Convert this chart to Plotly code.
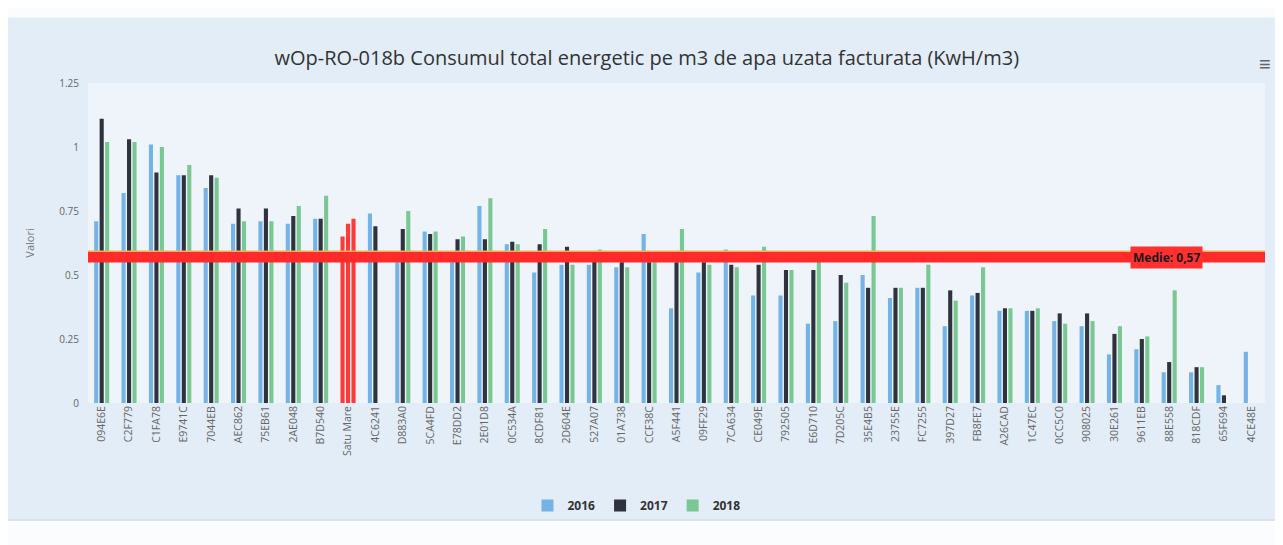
import plotly.graph_objects as go

# categories (operators) and values
categories = ["094E6E", "C2F779", "C1FA78", "E9741C", "7044EB", "AEC862", "75EB61", "2AE048",
              "B7D540", "Satu Mare", "4C6241", "D883A0", "5CA4FD", "E78DD2", "2E01D8", "0C534A",
              "8CDF81", "2D604E", "527A07", "01A738", "CCF38C", "A5F441", "09FF29", "7CA634",
              "CE049E", "792505", "E6D710", "7D205C", "35E4B5", "23755E", "FC7255", "397D27",
              "FB8FE7", "A26CAD", "1C47EC", "0CC5C0", "908025", "30E261", "9611EB", "88E558",
              "818CDF", "65F694", "4CE48E"]

v2016 = [0.71, 0.82, 1.01, 0.89, 0.84, 0.70, 0.71, 0.70, 0.72, 0.65, 0.74, 0.55, 0.67, 0.55,
         0.77, 0.62, 0.51, 0.54, 0.54, 0.53, 0.66, 0.37, 0.51, 0.60, 0.42, 0.42, 0.31, 0.32,
         0.50, 0.41, 0.45, 0.30, 0.42, 0.36, 0.36, 0.32, 0.30, 0.19, 0.21, 0.12, 0.12, 0.07, 0.20]
v2017 = [1.11, 1.03, 0.90, 0.89, 0.89, 0.76, 0.76, 0.73, 0.72, 0.70, 0.69, 0.68, 0.66, 0.64,
         0.64, 0.63, 0.62, 0.61, 0.59, 0.55, 0.55, 0.55, 0.55, 0.54, 0.54, 0.52, 0.52, 0.50,
         0.45, 0.45, 0.45, 0.44, 0.43, 0.37, 0.36, 0.35, 0.35, 0.27, 0.25, 0.16, 0.14, 0.03, None]
v2018 = [1.02, 1.02, 1.00, 0.93, 0.88, 0.71, 0.71, 0.77, 0.81, 0.72, None, 0.75, 0.67, 0.65,
         0.80, 0.62, 0.68, 0.54, 0.60, 0.53, 0.55, 0.68, 0.54, 0.53, 0.61, 0.52, 0.58, 0.47,
         0.73, 0.45, 0.54, 0.40, 0.53, 0.37, 0.37, 0.31, 0.32, 0.30, 0.26, 0.44, 0.14, None, None]

years = ["2016", "2017", "2018"]
colors = ["#74b3e8", "#2f323f", "#79c893"]
highlight = "Satu Mare"
mean_value = 0.57
ytick_vals = [0, 0.25, 0.5, 0.75, 1, 1.25]
ytick_text = ["0", "0.25", "0.5", "0.75", "1", "1.25"]

fig = go.Figure()
for name, vals, col in zip(years, [v2016, v2017, v2018], colors):
    bar_colors = ["#ff3838" if c == highlight else col for c in categories]
    fig.add_trace(go.Bar(x=categories, y=vals, name=f"<b>{name}</b>",
                         marker=dict(color=bar_colors, line_width=0)))

# mean plot line
fig.add_shape(type="line", xref="paper", yref="y", x0=0, x1=1, y0=mean_value, y1=mean_value,
              line=dict(color="#ff2b2b", width=11))
fig.add_shape(type="line", xref="paper", yref="y", x0=0, x1=1,
              y0=mean_value + 0.023, y1=mean_value + 0.023,
              line=dict(color="#f7b04c", width=1.5))
fig.add_annotation(xref="paper", yref="y", x=0.916, y=mean_value, xanchor="center",
                   yanchor="middle", text="<b>Medie: 0,57</b>", showarrow=False,
                   bgcolor="#ff3030", font=dict(size=12, color="#1a1a1a"),
                   borderpad=2)

# white page strips around the chart container
fig.add_shape(type="rect", xref="paper", yref="paper", x0=-0.08, x1=1.02, y0=1.205, y1=1.27,
              fillcolor="#fbfcfd", line_width=0, layer="below")
fig.add_shape(type="rect", xref="paper", yref="paper", x0=-0.08, x1=1.02, y0=-0.366, y1=-0.45,
              fillcolor="#fbfcfd", line_width=0, layer="below")
fig.add_shape(type="line", xref="paper", yref="paper", x0=-0.08, x1=1.02, y0=-0.366, y1=-0.366,
              line=dict(color="#c9cfd6", width=1))

# context menu icon
fig.add_annotation(xref="paper", yref="paper", x=1.0, y=1.0625, xanchor="center",
                   yanchor="middle", text="≡", showarrow=False,
                   font=dict(size=20, color="#666666"))

# page body has an 8px margin, so the figure is 8px smaller than the window
fig.update_layout(
    width=1275, height=537,
    margin=dict(l=80, r=18, t=75, b=142),
    paper_bgcolor="#e2edf7",
    plot_bgcolor="#eef4f9",
    font=dict(family="Open Sans, sans-serif", color="#666666"),
    title=dict(text="wOp-RO-018b Consumul total energetic pe m3 de apa uzata facturata (KwH/m3)",
               x=0.501, xanchor="center", y=0.907, yanchor="middle",
               font=dict(size=20, color="#333333")),
    barmode="group", bargap=0.4, bargroupgap=0.25,
    showlegend=True,
    legend=dict(orientation="h", x=0.466, xanchor="center", y=-0.32, yanchor="middle",
                font=dict(size=12, color="#333333"),
                bgcolor="rgba(0,0,0,0)"),
    xaxis=dict(tickangle=-90, tickfont=dict(size=10.5, color="#666666"),
               showgrid=False, showline=False, ticks=""),
    yaxis=dict(range=[0, 1.25], tickvals=ytick_vals, ticktext=ytick_text,
               tickfont=dict(size=10, color="#666666"), showgrid=False, zeroline=False,
               ticklabelstandoff=8,
               title=dict(text="Valori", font=dict(size=11, color="#777777"), standoff=22)),
)

fig.write_html("out.html")
